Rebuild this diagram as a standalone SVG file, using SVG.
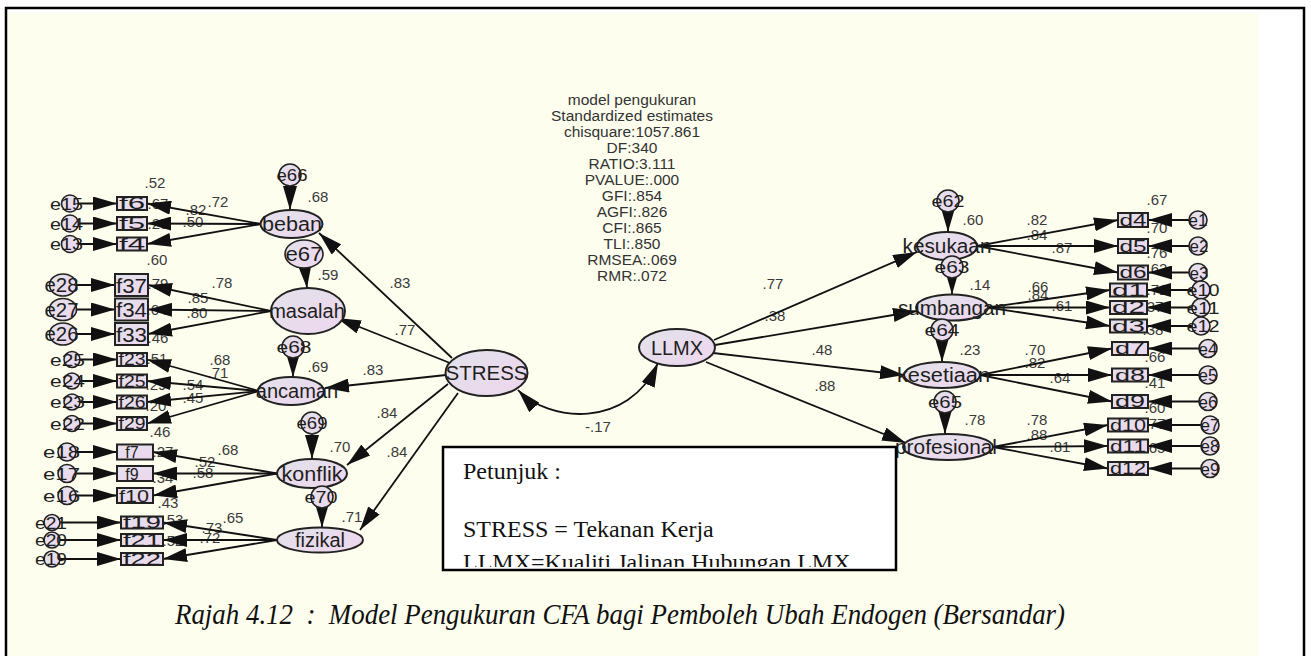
<svg xmlns="http://www.w3.org/2000/svg" width="1311" height="656" viewBox="0 0 1311 656">
  <defs>
    <linearGradient id="g" x1="0" y1="0" x2="1" y2="1">
      <stop offset="0" stop-color="#e2e2ea"/>
      <stop offset="1" stop-color="#eed6ee"/>
    </linearGradient>
    <marker id="ah" markerUnits="userSpaceOnUse" markerWidth="24" markerHeight="14" viewBox="0 0 24 14" refX="24" refY="7" orient="auto-start-reverse">
      <path d="M0,0 L24,7 L0,14 z" fill="#111"/>
    </marker>
    <clipPath id="legclip">
      <rect x="444" y="448" width="451" height="119"/>
    </clipPath>
    <style>
      .lat { fill:url(#g); stroke:#222; stroke-width:2 }
      .obs { fill:url(#g); stroke:#222; stroke-width:2 }
      .err { fill:url(#g); stroke:#222; stroke-width:1.6 }
      .t { font-family:"Liberation Sans", Arial, sans-serif; fill:#1e1e1e; text-anchor:middle }
      .lt { font-size:20px }
      .et { font-size:17px }
      .ot { font-size:16px }
      .n { font-family:"Liberation Sans", Arial, sans-serif; font-size:15px; fill:#3a3a3a; text-anchor:middle }
      .hd { font-family:"Liberation Sans", Arial, sans-serif; font-size:15.5px; fill:#333; text-anchor:middle }
      .c { fill:none; stroke:#111; stroke-width:1.8; marker-end:url(#ah) }
      .leg { font-family:"Liberation Serif", "Times New Roman", serif; font-size:24px; fill:#111 }
    </style>
  </defs>

  <!-- page frame and background -->
  <rect x="0" y="0" width="1311" height="656" fill="#fff"/>
  <rect x="8" y="13" width="1250" height="650" fill="#fefeee"/>
  <rect x="6" y="8" width="1298" height="670" fill="none" stroke="#000" stroke-width="2.5"/>

  <!-- fit statistics -->
  <g id="fit-summary">
    <text class="hd" x="632" y="105">model pengukuran</text>
    <text class="hd" x="632" y="121">Standardized estimates</text>
    <text class="hd" x="632" y="137">chisquare:1057.861</text>
    <text class="hd" x="632" y="153">DF:340</text>
    <text class="hd" x="632" y="169">RATIO:3.111</text>
    <text class="hd" x="632" y="185">PVALUE:.000</text>
    <text class="hd" x="632" y="201">GFI:.854</text>
    <text class="hd" x="632" y="217">AGFI:.826</text>
    <text class="hd" x="632" y="233">CFI:.865</text>
    <text class="hd" x="632" y="249">TLI:.850</text>
    <text class="hd" x="632" y="265">RMSEA:.069</text>
    <text class="hd" x="632" y="281">RMR:.072</text>
  </g>

  <!-- estimates -->
  <g id="estimates">
    <text class="n" x="155" y="188">.52</text>
    <text class="n" x="158" y="209">.67</text>
    <text class="n" x="158" y="229">.25</text>
    <text class="n" x="157" y="265">.60</text>
    <text class="n" x="218" y="207">.72</text>
    <text class="n" x="196" y="215">.82</text>
    <text class="n" x="193" y="227">.50</text>
    <text class="n" x="318" y="202">.68</text>

    <text class="n" x="158" y="289">.79</text>
    <text class="n" x="157" y="315">.64</text>
    <text class="n" x="158" y="343">.46</text>
    <text class="n" x="222" y="288">.78</text>
    <text class="n" x="198" y="303">.85</text>
    <text class="n" x="197" y="318">.80</text>
    <text class="n" x="328" y="280">.59</text>

    <text class="n" x="157" y="364">.51</text>
    <text class="n" x="156" y="390">.29</text>
    <text class="n" x="156" y="411">.20</text>
    <text class="n" x="160" y="437">.46</text>
    <text class="n" x="220" y="365">.68</text>
    <text class="n" x="218" y="378">.71</text>
    <text class="n" x="193" y="390">.54</text>
    <text class="n" x="193" y="403">.45</text>
    <text class="n" x="318" y="372">.69</text>

    <text class="n" x="163" y="457">.27</text>
    <text class="n" x="163" y="483">.34</text>
    <text class="n" x="168" y="508">.43</text>
    <text class="n" x="228" y="455">.68</text>
    <text class="n" x="205" y="467">.52</text>
    <text class="n" x="203" y="478">.58</text>
    <text class="n" x="340" y="452">.70</text>

    <text class="n" x="173" y="525">.53</text>
    <text class="n" x="173" y="546">.52</text>
    <text class="n" x="233" y="523">.65</text>
    <text class="n" x="212" y="533">.73</text>
    <text class="n" x="210" y="543">.72</text>
    <text class="n" x="352" y="522">.71</text>

    <text class="n" x="400" y="288">.83</text>
    <text class="n" x="405" y="335">.77</text>
    <text class="n" x="373" y="375">.83</text>
    <text class="n" x="387" y="418">.84</text>
    <text class="n" x="397" y="457">.84</text>
    <text class="n" x="598" y="432">-.17</text>

    <text class="n" x="773" y="289">.77</text>
    <text class="n" x="775" y="321">.38</text>
    <text class="n" x="822" y="355">.48</text>
    <text class="n" x="825" y="391">.88</text>

    <text class="n" x="973" y="225">.60</text>
    <text class="n" x="1037" y="225">.82</text>
    <text class="n" x="1037" y="240">.84</text>
    <text class="n" x="1062" y="253">.87</text>
    <text class="n" x="1157" y="205">.67</text>
    <text class="n" x="1157" y="233">.70</text>
    <text class="n" x="1157" y="258">.76</text>
    <text class="n" x="1157" y="274">.62</text>

    <text class="n" x="980" y="290">.14</text>
    <text class="n" x="1038" y="292">.66</text>
    <text class="n" x="1038" y="300">.84</text>
    <text class="n" x="1062" y="311">.61</text>
    <text class="n" x="1157" y="295">.71</text>
    <text class="n" x="1153" y="312">.37</text>
    <text class="n" x="1153" y="335">.38</text>

    <text class="n" x="970" y="355">.23</text>
    <text class="n" x="1035" y="355">.70</text>
    <text class="n" x="1035" y="368">.82</text>
    <text class="n" x="1060" y="383">.64</text>
    <text class="n" x="1155" y="362">.66</text>
    <text class="n" x="1155" y="388">.41</text>
    <text class="n" x="1155" y="413">.60</text>

    <text class="n" x="975" y="425">.78</text>
    <text class="n" x="1037" y="425">.78</text>
    <text class="n" x="1037" y="440">.88</text>
    <text class="n" x="1060" y="452">.81</text>
    <text class="n" x="1155" y="429">.77</text>
    <text class="n" x="1155" y="453">.65</text>
  </g>

  <!-- paths -->
  <g id="connectors">
    <!-- beban -->
    <line class="c" x1="261" y1="224" x2="147" y2="203.5"/>
    <line class="c" x1="261" y1="224" x2="147" y2="223.5"/>
    <line class="c" x1="261" y1="224" x2="147" y2="244"/>
    <line class="c" x1="78.5" y1="203.5" x2="117" y2="203.5"/>
    <line class="c" x1="78.5" y1="223.5" x2="117" y2="223.5"/>
    <line class="c" x1="78.5" y1="244" x2="117" y2="244"/>
    <line class="c" x1="290" y1="186" x2="290" y2="210"/>
    <!-- masalah -->
    <line class="c" x1="271" y1="311" x2="148" y2="285"/>
    <line class="c" x1="271" y1="311" x2="148" y2="309.5"/>
    <line class="c" x1="271" y1="311" x2="148" y2="334"/>
    <line class="c" x1="76.5" y1="285" x2="115" y2="285"/>
    <line class="c" x1="76.5" y1="309.5" x2="115" y2="309.5"/>
    <line class="c" x1="76.5" y1="334" x2="115" y2="334"/>
    <line class="c" x1="305" y1="268" x2="307" y2="288"/>
    <!-- ancaman -->
    <line class="c" x1="259" y1="391" x2="147" y2="359.5"/>
    <line class="c" x1="259" y1="391" x2="147" y2="381"/>
    <line class="c" x1="259" y1="391" x2="147" y2="402"/>
    <line class="c" x1="259" y1="391" x2="147" y2="423.5"/>
    <line class="c" x1="80" y1="359.5" x2="117" y2="359.5"/>
    <line class="c" x1="80" y1="381" x2="117" y2="381"/>
    <line class="c" x1="80" y1="402" x2="117" y2="402"/>
    <line class="c" x1="80" y1="423.5" x2="117" y2="423.5"/>
    <line class="c" x1="293" y1="358" x2="293" y2="377"/>
    <!-- konflik -->
    <line class="c" x1="277" y1="473.5" x2="153" y2="452"/>
    <line class="c" x1="277" y1="473.5" x2="153" y2="473.5"/>
    <line class="c" x1="277" y1="473.5" x2="153" y2="495.5"/>
    <line class="c" x1="76" y1="452" x2="117" y2="452"/>
    <line class="c" x1="76" y1="473.5" x2="117" y2="473.5"/>
    <line class="c" x1="76" y1="495.5" x2="117" y2="495.5"/>
    <line class="c" x1="312" y1="434" x2="312" y2="459"/>
    <!-- fizikal -->
    <line class="c" x1="277" y1="540" x2="163" y2="522.5"/>
    <line class="c" x1="277" y1="540" x2="163" y2="540"/>
    <line class="c" x1="277" y1="540" x2="163" y2="559"/>
    <line class="c" x1="60" y1="522.5" x2="121" y2="522.5"/>
    <line class="c" x1="60" y1="540" x2="121" y2="540"/>
    <line class="c" x1="60" y1="559" x2="121" y2="559"/>
    <line class="c" x1="322" y1="508" x2="322" y2="527.5"/>
    <!-- STRESS -->
    <line class="c" x1="452" y1="358" x2="319" y2="233"/>
    <line class="c" x1="450" y1="363" x2="337" y2="318"/>
    <line class="c" x1="446" y1="375" x2="325" y2="388"/>
    <line class="c" x1="448" y1="384" x2="347" y2="465"/>
    <line class="c" x1="458" y1="393" x2="360" y2="530"/>
    <path class="c" d="M518,390 C548,422 628,430 658,363" marker-start="url(#ah)"/>
    <!-- LLMX -->
    <line class="c" x1="714" y1="340" x2="917" y2="252"/>
    <line class="c" x1="715" y1="345" x2="917" y2="311"/>
    <line class="c" x1="713" y1="353" x2="904" y2="375"/>
    <line class="c" x1="706" y1="362" x2="906" y2="443"/>
    <!-- kesukaan -->
    <line class="c" x1="977" y1="246" x2="1118" y2="220"/>
    <line class="c" x1="977" y1="246" x2="1118" y2="246"/>
    <line class="c" x1="977" y1="246" x2="1118" y2="272.5"/>
    <line class="c" x1="1189" y1="220" x2="1148" y2="220"/>
    <line class="c" x1="1189" y1="246" x2="1148" y2="246"/>
    <line class="c" x1="1189" y1="272.5" x2="1148" y2="272.5"/>
    <line class="c" x1="948" y1="212" x2="948" y2="232"/>
    <!-- sumbangan -->
    <line class="c" x1="988" y1="307.5" x2="1110" y2="290"/>
    <line class="c" x1="988" y1="307.5" x2="1110" y2="307.5"/>
    <line class="c" x1="988" y1="307.5" x2="1110" y2="326"/>
    <line class="c" x1="1192" y1="290" x2="1147" y2="290"/>
    <line class="c" x1="1192" y1="307.5" x2="1147" y2="307.5"/>
    <line class="c" x1="1192" y1="326" x2="1147" y2="326"/>
    <line class="c" x1="952" y1="278" x2="952" y2="294.5"/>
    <!-- kesetiaan -->
    <line class="c" x1="980" y1="375" x2="1112" y2="348.5"/>
    <line class="c" x1="980" y1="375" x2="1112" y2="375"/>
    <line class="c" x1="980" y1="375" x2="1112" y2="401.5"/>
    <line class="c" x1="1199" y1="348.5" x2="1148" y2="348.5"/>
    <line class="c" x1="1199" y1="375" x2="1148" y2="375"/>
    <line class="c" x1="1199" y1="401.5" x2="1148" y2="401.5"/>
    <line class="c" x1="942" y1="341" x2="942" y2="362"/>
    <!-- profesional -->
    <line class="c" x1="993" y1="447" x2="1108" y2="425"/>
    <line class="c" x1="993" y1="447" x2="1108" y2="446"/>
    <line class="c" x1="993" y1="447" x2="1108" y2="468.5"/>
    <line class="c" x1="1201" y1="425" x2="1148" y2="425"/>
    <line class="c" x1="1201" y1="446" x2="1148" y2="446"/>
    <line class="c" x1="1201" y1="468.5" x2="1148" y2="468.5"/>
    <line class="c" x1="945" y1="413" x2="945" y2="434"/>
  </g>

  <!-- latent variables -->
  <g id="STRESS"><ellipse class="lat" cx="486.5" cy="373" rx="41" ry="23"/><text class="t lt" x="486.5" y="380" textLength="82" lengthAdjust="spacingAndGlyphs">STRESS</text></g>
  <g id="LLMX"><ellipse class="lat" cx="677" cy="347.5" rx="38" ry="18.5"/><text class="t lt" x="677" y="355">LLMX</text></g>

  <g id="beban"><ellipse class="lat" cx="291.5" cy="224" rx="31" ry="14"/><text class="t lt" x="292" y="231" textLength="60" lengthAdjust="spacingAndGlyphs">beban</text></g>
  <g id="masalah"><ellipse class="lat" cx="308" cy="311" rx="37" ry="23"/><text class="t lt" x="307" y="318">masalah</text></g>
  <g id="ancaman"><ellipse class="lat" cx="291" cy="391" rx="33" ry="14"/><text class="t lt" x="297" y="398">ancaman</text></g>
  <g id="konflik"><ellipse class="lat" cx="312" cy="473.5" rx="35" ry="14.5"/><text class="t lt" x="312" y="481" textLength="61" lengthAdjust="spacingAndGlyphs">konflik</text></g>
  <g id="fizikal"><ellipse class="lat" cx="320" cy="540" rx="43" ry="12.5"/><text class="t lt" x="320" y="547">fizikal</text></g>

  <g id="kesukaan"><ellipse class="lat" cx="947" cy="246" rx="30" ry="14"/><text class="t lt" x="947" y="253" textLength="89" lengthAdjust="spacingAndGlyphs">kesukaan</text></g>
  <g id="sumbangan"><ellipse class="lat" cx="952" cy="307.5" rx="36" ry="13"/><text class="t lt" x="952" y="314.5" textLength="108" lengthAdjust="spacingAndGlyphs">sumbangan</text></g>
  <g id="kesetiaan"><ellipse class="lat" cx="942" cy="375" rx="38" ry="13"/><text class="t lt" x="943.5" y="382" textLength="93" lengthAdjust="spacingAndGlyphs">kesetiaan</text></g>
  <g id="profesional"><ellipse class="lat" cx="948" cy="447" rx="45" ry="13"/><text class="t lt" x="946" y="454" textLength="102" lengthAdjust="spacingAndGlyphs">profesional</text></g>

  <!-- residuals of latent variables -->
  <g id="e66"><circle class="err" cx="290" cy="175" r="11"/><text class="t et" x="292" y="181" textLength="31" lengthAdjust="spacingAndGlyphs">e66</text></g>
  <g id="e67"><ellipse class="err" cx="304" cy="254" rx="19" ry="14"/><text class="t lt" x="304" y="261" textLength="37" lengthAdjust="spacingAndGlyphs">e67</text></g>
  <g id="e68"><circle class="err" cx="293" cy="347" r="11"/><text class="t et" x="294" y="353" textLength="35" lengthAdjust="spacingAndGlyphs">e68</text></g>
  <g id="e69"><circle class="err" cx="312" cy="423" r="11"/><text class="t et" x="312" y="429" textLength="31" lengthAdjust="spacingAndGlyphs">e69</text></g>
  <g id="e70"><circle class="err" cx="322" cy="497" r="11"/><text class="t et" x="321" y="503" textLength="33" lengthAdjust="spacingAndGlyphs">e70</text></g>
  <g id="e62"><circle class="err" cx="948" cy="201" r="11"/><text class="t et" x="948" y="207" textLength="33" lengthAdjust="spacingAndGlyphs">e62</text></g>
  <g id="e63"><circle class="err" cx="952" cy="267" r="11"/><text class="t et" x="952" y="273" textLength="35" lengthAdjust="spacingAndGlyphs">e63</text></g>
  <g id="e64"><circle class="err" cx="942" cy="330" r="11"/><text class="t et" x="942" y="336" textLength="35" lengthAdjust="spacingAndGlyphs">e64</text></g>
  <g id="e65"><circle class="err" cx="945" cy="402" r="11"/><text class="t et" x="945" y="408" textLength="34" lengthAdjust="spacingAndGlyphs">e65</text></g>

  <!-- indicators: beban -->
  <g id="f6"><rect class="obs" x="117" y="197" width="30" height="13"/><text class="t ot" x="132" y="209" textLength="26" lengthAdjust="spacingAndGlyphs">f6</text></g>
  <g id="f5"><rect class="obs" x="117" y="217" width="30" height="13"/><text class="t ot" x="132" y="229" textLength="26" lengthAdjust="spacingAndGlyphs">f5</text></g>
  <g id="f4"><rect class="obs" x="117" y="237.5" width="30" height="13"/><text class="t ot" x="132" y="249.5" textLength="26" lengthAdjust="spacingAndGlyphs">f4</text></g>
  <g id="e15"><circle class="err" cx="70" cy="203.5" r="8.5"/><text class="t et" x="66.5" y="209.5" textLength="33" lengthAdjust="spacingAndGlyphs">e15</text></g>
  <g id="e14"><circle class="err" cx="70" cy="223.5" r="8.5"/><text class="t et" x="66.5" y="229.5" textLength="33" lengthAdjust="spacingAndGlyphs">e14</text></g>
  <g id="e13"><circle class="err" cx="70" cy="244" r="8.5"/><text class="t et" x="66.5" y="250" textLength="33" lengthAdjust="spacingAndGlyphs">e13</text></g>

  <!-- indicators: masalah -->
  <g id="f37"><rect class="obs" x="115" y="274" width="33" height="22"/><text class="t lt" x="131.5" y="292.5" textLength="31" lengthAdjust="spacingAndGlyphs">f37</text></g>
  <g id="f34"><rect class="obs" x="115" y="298.5" width="33" height="22"/><text class="t lt" x="131.5" y="317" textLength="31" lengthAdjust="spacingAndGlyphs">f34</text></g>
  <g id="f33"><rect class="obs" x="115" y="323" width="33" height="22"/><text class="t lt" x="131.5" y="341.5" textLength="31" lengthAdjust="spacingAndGlyphs">f33</text></g>
  <g id="e28"><ellipse class="err" cx="63" cy="285" rx="13.5" ry="11"/><text class="t lt" x="61.5" y="292" textLength="34" lengthAdjust="spacingAndGlyphs">e28</text></g>
  <g id="e27"><ellipse class="err" cx="63" cy="309.5" rx="13.5" ry="11"/><text class="t lt" x="61.5" y="316.5" textLength="34" lengthAdjust="spacingAndGlyphs">e27</text></g>
  <g id="e26"><ellipse class="err" cx="63" cy="334" rx="13.5" ry="11"/><text class="t lt" x="61.5" y="341" textLength="34" lengthAdjust="spacingAndGlyphs">e26</text></g>

  <!-- indicators: ancaman -->
  <g id="f23"><rect class="obs" x="117" y="353" width="30" height="13"/><text class="t ot" x="132" y="365" textLength="27" lengthAdjust="spacingAndGlyphs">f23</text></g>
  <g id="f25"><rect class="obs" x="117" y="374.5" width="30" height="13"/><text class="t ot" x="132" y="386.5" textLength="27" lengthAdjust="spacingAndGlyphs">f25</text></g>
  <g id="f26"><rect class="obs" x="117" y="395.5" width="30" height="13"/><text class="t ot" x="132" y="407.5" textLength="27" lengthAdjust="spacingAndGlyphs">f26</text></g>
  <g id="f29"><rect class="obs" x="117" y="417" width="30" height="13"/><text class="t ot" x="132" y="429" textLength="27" lengthAdjust="spacingAndGlyphs">f29</text></g>
  <g id="e25"><circle class="err" cx="72" cy="359.5" r="8"/><text class="t et" x="67.5" y="365.5" textLength="35" lengthAdjust="spacingAndGlyphs">e25</text></g>
  <g id="e24"><circle class="err" cx="72" cy="381" r="8"/><text class="t et" x="67.5" y="387" textLength="35" lengthAdjust="spacingAndGlyphs">e24</text></g>
  <g id="e23"><circle class="err" cx="72" cy="402" r="8"/><text class="t et" x="67.5" y="408" textLength="35" lengthAdjust="spacingAndGlyphs">e23</text></g>
  <g id="e22"><circle class="err" cx="72" cy="423.5" r="8"/><text class="t et" x="67.5" y="429.5" textLength="35" lengthAdjust="spacingAndGlyphs">e22</text></g>

  <!-- indicators: konflik -->
  <g id="f7"><rect class="obs" x="117" y="444.5" width="36" height="15"/><text class="t ot" x="132" y="458" font-size="18">f7</text></g>
  <g id="f9"><rect class="obs" x="117" y="466" width="36" height="15"/><text class="t ot" x="132" y="479.5" font-size="18">f9</text></g>
  <g id="f10"><rect class="obs" x="117" y="488" width="36" height="15"/><text class="t ot" x="134" y="501.5" textLength="30" lengthAdjust="spacingAndGlyphs">f10</text></g>
  <g id="e18"><circle class="err" cx="67" cy="452" r="9"/><text class="t et" x="61.5" y="458" textLength="37" lengthAdjust="spacingAndGlyphs">e18</text></g>
  <g id="e17"><circle class="err" cx="67" cy="473.5" r="9"/><text class="t et" x="61.5" y="479.5" textLength="37" lengthAdjust="spacingAndGlyphs">e17</text></g>
  <g id="e16"><circle class="err" cx="67" cy="495.5" r="9"/><text class="t et" x="61.5" y="501.5" textLength="37" lengthAdjust="spacingAndGlyphs">e16</text></g>

  <!-- indicators: fizikal -->
  <g id="f19"><rect class="obs" x="121" y="516.5" width="42" height="12"/><text class="t ot" x="142" y="528" textLength="38" lengthAdjust="spacingAndGlyphs">f19</text></g>
  <g id="f21"><rect class="obs" x="121" y="534" width="42" height="12"/><text class="t ot" x="142" y="545.5" textLength="38" lengthAdjust="spacingAndGlyphs">f21</text></g>
  <g id="f22"><rect class="obs" x="121" y="553" width="42" height="12"/><text class="t ot" x="142" y="564.5" textLength="38" lengthAdjust="spacingAndGlyphs">f22</text></g>
  <g id="e21"><circle class="err" cx="52" cy="522.5" r="8"/><text class="t et" x="51" y="528.5" textLength="32" lengthAdjust="spacingAndGlyphs">e21</text></g>
  <g id="e20"><circle class="err" cx="52" cy="540" r="8"/><text class="t et" x="51" y="546" textLength="32" lengthAdjust="spacingAndGlyphs">e20</text></g>
  <g id="e19"><circle class="err" cx="52" cy="559" r="8"/><text class="t et" x="51" y="565" textLength="32" lengthAdjust="spacingAndGlyphs">e19</text></g>

  <!-- indicators: kesukaan -->
  <g id="d4"><rect class="obs" x="1118" y="213" width="30" height="14"/><text class="t ot" x="1133" y="225.5" textLength="27" lengthAdjust="spacingAndGlyphs">d4</text></g>
  <g id="d5"><rect class="obs" x="1118" y="239" width="30" height="14"/><text class="t ot" x="1133" y="251.5" textLength="27" lengthAdjust="spacingAndGlyphs">d5</text></g>
  <g id="d6"><rect class="obs" x="1118" y="265.5" width="30" height="14"/><text class="t ot" x="1133" y="278" textLength="27" lengthAdjust="spacingAndGlyphs">d6</text></g>
  <g id="e1"><circle class="err" cx="1198" cy="220" r="9"/><text class="t et" x="1198" y="226">e1</text></g>
  <g id="e2"><circle class="err" cx="1198" cy="246" r="9"/><text class="t et" x="1199" y="252">e2</text></g>
  <g id="e3"><circle class="err" cx="1198" cy="272.5" r="9"/><text class="t et" x="1199" y="278.5">e3</text></g>

  <!-- indicators: sumbangan -->
  <g id="d1"><rect class="obs" x="1110" y="283.5" width="37" height="13"/><text class="t ot" x="1128.5" y="295.5" textLength="33" lengthAdjust="spacingAndGlyphs">d1</text></g>
  <g id="d2"><rect class="obs" x="1110" y="301" width="37" height="13"/><text class="t ot" x="1128.5" y="313" textLength="33" lengthAdjust="spacingAndGlyphs">d2</text></g>
  <g id="d3"><rect class="obs" x="1110" y="319.5" width="37" height="13"/><text class="t ot" x="1128.5" y="331.5" textLength="33" lengthAdjust="spacingAndGlyphs">d3</text></g>
  <g id="e10"><circle class="err" cx="1201" cy="290" r="9"/><text class="t et" x="1203" y="296" textLength="33" lengthAdjust="spacingAndGlyphs">e10</text></g>
  <g id="e11"><circle class="err" cx="1201" cy="307.5" r="9"/><text class="t et" x="1203" y="313.5" textLength="33" lengthAdjust="spacingAndGlyphs">e11</text></g>
  <g id="e12"><circle class="err" cx="1201" cy="326" r="9"/><text class="t et" x="1203" y="332" textLength="33" lengthAdjust="spacingAndGlyphs">e12</text></g>

  <!-- indicators: kesetiaan -->
  <g id="d7"><rect class="obs" x="1112" y="342" width="36" height="13"/><text class="t ot" x="1130" y="354" textLength="30" lengthAdjust="spacingAndGlyphs">d7</text></g>
  <g id="d8"><rect class="obs" x="1112" y="368.5" width="36" height="13"/><text class="t ot" x="1130" y="380.5" textLength="30" lengthAdjust="spacingAndGlyphs">d8</text></g>
  <g id="d9"><rect class="obs" x="1112" y="395" width="36" height="13"/><text class="t ot" x="1130" y="407" textLength="30" lengthAdjust="spacingAndGlyphs">d9</text></g>
  <g id="e4"><circle class="err" cx="1208" cy="348.5" r="9"/><text class="t et" x="1208" y="354.5">e4</text></g>
  <g id="e5"><circle class="err" cx="1208" cy="375" r="9"/><text class="t et" x="1208" y="381">e5</text></g>
  <g id="e6"><circle class="err" cx="1208" cy="401.5" r="9"/><text class="t et" x="1208" y="407.5">e6</text></g>

  <!-- indicators: profesional -->
  <g id="d10"><rect class="obs" x="1108" y="418.5" width="40" height="13"/><text class="t ot" x="1128" y="430.5" textLength="36" lengthAdjust="spacingAndGlyphs">d10</text></g>
  <g id="d11"><rect class="obs" x="1108" y="439.5" width="40" height="13"/><text class="t ot" x="1128" y="451.5" textLength="36" lengthAdjust="spacingAndGlyphs">d11</text></g>
  <g id="d12"><rect class="obs" x="1108" y="462" width="40" height="13"/><text class="t ot" x="1128" y="474" textLength="36" lengthAdjust="spacingAndGlyphs">d12</text></g>
  <g id="e7"><circle class="err" cx="1210" cy="425" r="9"/><text class="t et" x="1210" y="431">e7</text></g>
  <g id="e8"><circle class="err" cx="1210" cy="446" r="9"/><text class="t et" x="1210" y="452">e8</text></g>
  <g id="e9"><circle class="err" cx="1210" cy="468.5" r="9"/><text class="t et" x="1210" y="474.5">e9</text></g>

  <!-- legend -->
  <g id="legend">
    <rect x="443" y="447" width="453" height="123" fill="#fff" stroke="#000" stroke-width="2.5"/>
    <g clip-path="url(#legclip)">
      <text class="leg" x="463" y="479">Petunjuk :</text>
      <text class="leg" x="463" y="537">STRESS = Tekanan Kerja</text>
      <text class="leg" x="463" y="570">LLMX=Kualiti Jalinan Hubungan LMX</text>
    </g>
  </g>

  <!-- caption -->
  <text x="620" y="624" font-family="'Liberation Serif', 'Times New Roman', serif" font-style="italic" font-size="30" fill="#111" text-anchor="middle" textLength="890" lengthAdjust="spacingAndGlyphs">Rajah 4.12&#160;&#160;:&#160;&#160;Model Pengukuran CFA bagi Pemboleh Ubah Endogen (Bersandar)</text>
</svg>
